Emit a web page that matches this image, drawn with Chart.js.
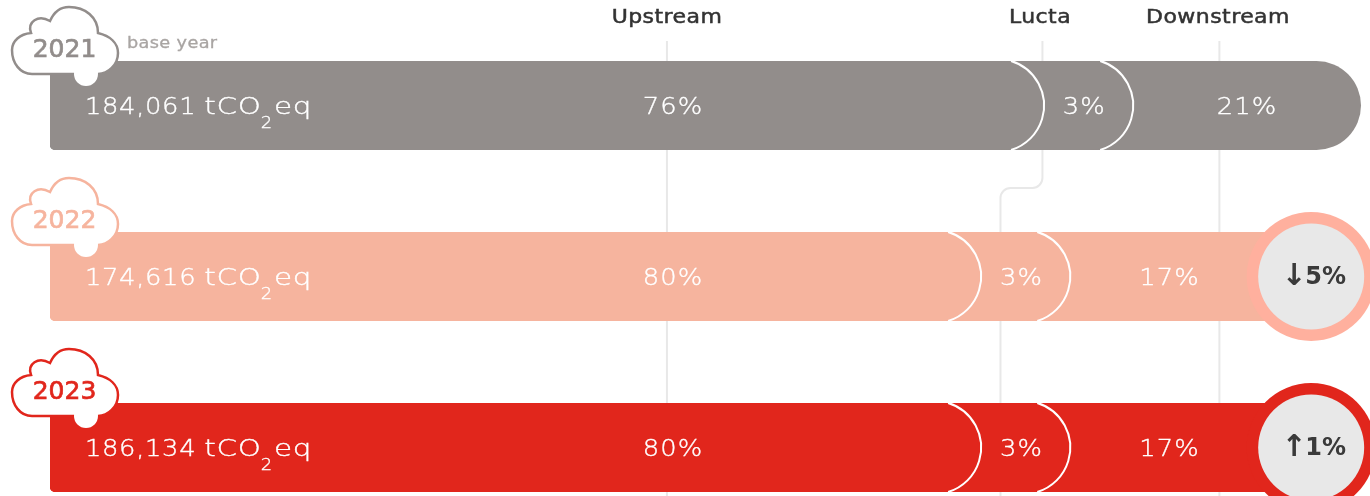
<!DOCTYPE html>
<html>
<head>
<meta charset="utf-8">
<style>
  html, body { margin: 0; background: #fff; }
  canvas { display: block; }
</style>
<script src="https://cdn.jsdelivr.net/npm/chart.js@4"></script>
</head>
<body>
<canvas id="chart" width="1370" height="496"></canvas>
<script>
const years = ["2021", "2022", "2023"];
const totals = [184061, 174616, 186134];
const upstreamShare = [76, 80, 80];
const luctaShare = [3, 3, 3];
const downstreamShare = [21, 17, 17];
const changeArrows = [null, "↓", "↑"];
const changeValues = [null, 5, 1];
const headers = ["Upstream", "Lucta", "Downstream"];

// drawn length of each segment, on an axis where the 2021 bar is 100 long
const upstreamLength = [75.9, 71.1, 71.1];
const luctaLength = [6.8, 6.8, 6.8];
const downstreamLength = [17.3, 20.5, 20.5];

const barColors = ["#928d8b", "#f6b49e", "#e1261c"];
const ringColors = ["#928d8b", "#ffb09e", "#e1261c"];
const TEXT_FONT = '"DejaVu Sans"';
const THIN = `200 23px ${TEXT_FONT}`;

const upstreamEnd = upstreamLength;
const luctaEnd = upstreamLength.map((v, i) => v + luctaLength[i]);
const downstreamEnd = luctaEnd.map((v, i) => v + downstreamLength[i]);

// canvas text with an x stretch and a thin outline, the source font is wider than DejaVu
function drawText(ctx, str, x, y, opts) {
  const scaleX = opts.scaleX || 1;
  ctx.save();
  ctx.font = opts.font;
  ctx.fillStyle = opts.color;
  ctx.letterSpacing = (opts.spacing || 0) + "px";
  ctx.textBaseline = "middle";
  ctx.textAlign = "left";
  const width = ctx.measureText(str).width * scaleX;
  const left = opts.align === "left" ? x : x - width / 2;
  ctx.translate(left, y);
  ctx.scale(scaleX, 1);
  ctx.fillText(str, 0, 0);
  if (opts.stroke) {
    ctx.strokeStyle = opts.color;
    ctx.lineWidth = opts.stroke;
    ctx.strokeText(str, 0, 0);
  }
  ctx.restore();
  return width;
}

function cloudPath(ctx) {
  ctx.beginPath();
  ctx.moveTo(32, 74);
  ctx.bezierCurveTo(20, 74, 12, 63, 12, 50);
  ctx.bezierCurveTo(12, 41, 20, 34, 31, 33);
  ctx.bezierCurveTo(27, 22, 38, 14, 50, 21);
  ctx.bezierCurveTo(54, 12, 61, 7, 69, 7);
  ctx.bezierCurveTo(85, 7, 98, 17, 98, 33);
  ctx.bezierCurveTo(110, 36, 118, 43, 118, 53);
  ctx.bezierCurveTo(118, 65, 108, 74, 98, 74);
  ctx.closePath();
}

const guideLines = {
  id: "guideLines",
  beforeDatasetsDraw(chart) {
    const { ctx, scales: { x } } = chart;
    const upX = x.getPixelForValue(47.06);
    const lucX = x.getPixelForValue(75.7);
    const lucX2 = x.getPixelForValue(72.5);
    const downX = x.getPixelForValue(89.2);
    ctx.save();
    ctx.strokeStyle = "#e8e8e8";
    ctx.lineWidth = 2;
    ctx.beginPath();
    ctx.moveTo(upX, 41);
    ctx.lineTo(upX, 496);
    ctx.moveTo(downX, 41);
    ctx.lineTo(downX, 496);
    ctx.moveTo(lucX, 41);
    ctx.arcTo(lucX, 188, lucX2, 188, 10);
    ctx.arcTo(lucX2, 188, lucX2, 496, 10);
    ctx.lineTo(lucX2, 496);
    ctx.stroke();
    ctx.restore();
  },
};

const annotations = {
  id: "annotations",
  afterDatasetsDraw(chart) {
    const { ctx, scales: { x, y } } = chart;
    ctx.save();

    // white edge on the rounded end of upstream and lucta
    [0, 1].forEach((d) => {
      chart.getDatasetMeta(d).data.forEach((bar) => {
        const half = bar.height / 2;
        const r = half + 2;
        const sweep = Math.asin(half / r);
        ctx.strokeStyle = "#fff";
        ctx.lineWidth = 2;
        ctx.beginPath();
        ctx.arc(bar.x - r - 1, bar.y, r, -sweep, sweep);
        ctx.stroke();
      });
    });

    const headOpts = { font: `500 20px ${TEXT_FONT}`, color: "#333", spacing: 0.4, scaleX: 1.1, stroke: 0.5 };
    drawText(ctx, headers[0], 667, 18, headOpts);
    drawText(ctx, headers[1], 1040, 18, headOpts);
    drawText(ctx, headers[2], 1218, 18, headOpts);

    years.forEach((year, i) => {
      const yc = y.getPixelForValue(i);
      const top = yc - 105.5;

      // change badge
      if (changeArrows[i]) {
        const cx = x.getPixelForValue(96.2);
        ctx.fillStyle = ringColors[i];
        ctx.beginPath();
        ctx.arc(cx, yc, 64.5, 0, Math.PI * 2);
        ctx.fill();
        ctx.fillStyle = "#e8e8e8";
        ctx.beginPath();
        ctx.arc(cx, yc, 53, 0, Math.PI * 2);
        ctx.fill();
        drawText(ctx, changeArrows[i], cx - 17, yc + 1, { font: `bold 30px ${TEXT_FONT}`, color: "#3a3a3a" });
        drawText(ctx, changeValues[i] + "%", cx - 6, yc + 1, { font: `bold 24px ${TEXT_FONT}`, color: "#3a3a3a", align: "left" });
      }

      // year cloud
      ctx.save();
      ctx.translate(0, top);
      cloudPath(ctx);
      ctx.fillStyle = "#fff";
      ctx.fill();
      ctx.strokeStyle = barColors[i];
      ctx.lineWidth = 2.5;
      ctx.stroke();
      ctx.fillStyle = "#fff";
      ctx.beginPath();
      ctx.arc(86, 74, 12, 0, Math.PI * 2);
      ctx.fill();
      ctx.restore();
      drawText(ctx, year, 64.5, top + 50, { font: `500 25px ${TEXT_FONT}`, color: barColors[i], stroke: 0.7 });

      // bar labels
      const thin = { font: THIN, color: "#fff", scaleX: 1.12, stroke: 0.35, spacing: 0.6, align: "left" };
      const unit = { ...thin, scaleX: 1.28 };
      const ty = yc + 3;
      let tx = 85;
      tx += drawText(ctx, totals[i].toLocaleString("en-US"), tx, ty, thin) + 8;
      tx += drawText(ctx, "tCO", tx, ty, unit);
      tx += drawText(ctx, "2", tx - 1, ty + 15, { ...thin, font: `200 16px ${TEXT_FONT}` });
      drawText(ctx, "eq", tx, ty, unit);

      const share = { ...thin, align: "center", spacing: 1 };
      drawText(ctx, upstreamShare[i] + "%", 673, ty, share);
      drawText(ctx, luctaShare[i] + "%", x.getPixelForValue(luctaEnd[i] - 3.8), ty, share);
      drawText(ctx, downstreamShare[i] + "%", x.getPixelForValue(i === 0 ? 91.3 : 85.4), ty, share);
    });

    drawText(ctx, "base year", 127, 44, { font: `500 15px ${TEXT_FONT}`, color: "#a9a5a3", scaleX: 1.18, spacing: 0.3, stroke: 0.3, align: "left" });
    ctx.restore();
  },
};

function segment(data, color) {
  return {
    data,
    backgroundColor: color,
    borderWidth: 0,
    borderSkipped: false,
    borderRadius: { topLeft: 5, bottomLeft: 5, topRight: 44.5, bottomRight: 44.5 },
    inflateAmount: 0,
    barThickness: 89,
    grouped: false,
    clip: false,
  };
}

new Chart(document.getElementById("chart"), {
  type: "bar",
  data: {
    labels: years,
    // first dataset is painted last, so upstream sits over lucta over downstream
    datasets: [
      segment(upstreamEnd, barColors),
      segment(luctaEnd, barColors),
      segment(downstreamEnd, barColors),
    ],
  },
  plugins: [guideLines, annotations],
  options: {
    indexAxis: "y",
    responsive: false,
    animation: false,
    events: [],
    layout: { padding: { left: 50, right: 9, top: 105.5, bottom: 48.5 } },
    plugins: { legend: { display: false }, tooltip: { enabled: false } },
    scales: {
      x: { display: false, min: 0, max: 100 },
      y: { display: false, offset: false, grid: { offset: false } },
    },
  },
});
</script>
</body>
</html>
